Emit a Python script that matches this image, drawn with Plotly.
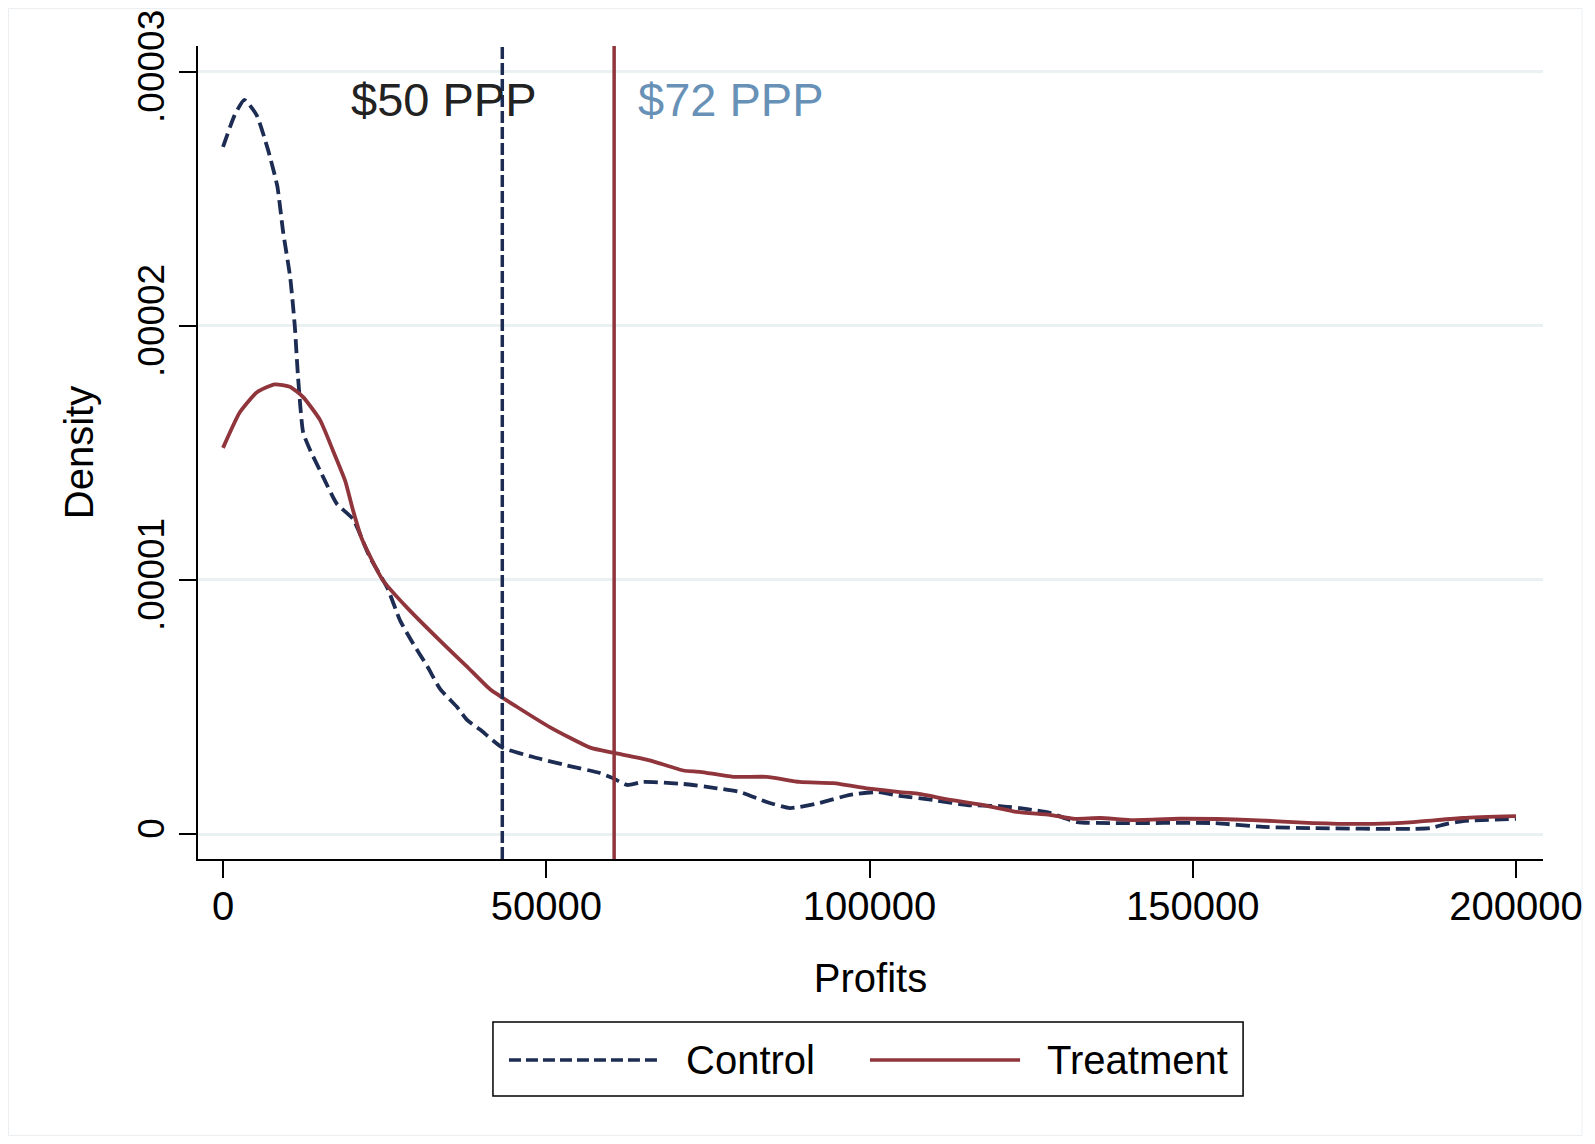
import numpy as np
import plotly.graph_objects as go

# ---- data ----
control_profit = [0, 1800, 3300, 5200, 7000, 8400, 9300, 10400, 11100, 11600,
                  12400, 13500, 15500, 17600, 20100, 22700, 25400, 27400, 29400, 31600,
                  33600, 36200, 37700, 39800, 43200, 48000, 53200, 58300, 60300, 62500,
                  65000, 71200, 76400, 80000, 84100, 87700, 91900, 97000, 101200, 104700,
                  109800, 115100, 120200, 124400, 127900, 132100, 137700, 153100, 160900, 168600,
                  184100, 186700, 189300, 191800, 200000]
control_density_e6 = [27.05, 28.3, 28.9, 28.3, 26.9, 25.5, 23.7, 21.9, 20.0, 18.0,
                      15.8, 15.1, 14.05, 13.0, 12.4, 10.9, 9.7, 8.4, 7.5, 6.6,
                      5.7, 5.0, 4.5, 4.1, 3.4, 3.03, 2.7, 2.4, 2.2, 1.93,
                      2.05, 1.97, 1.8, 1.65, 1.26, 1.02, 1.2, 1.54, 1.65, 1.5,
                      1.34, 1.14, 1.1, 0.98, 0.83, 0.47, 0.43, 0.43, 0.28, 0.23,
                      0.2, 0.23, 0.4, 0.51, 0.6]

treatment_profit = [0, 2600, 5300, 8000, 10400, 12400, 15000, 17000, 18900, 20100,
                    21500, 24700, 28500, 33600, 37700, 41300, 45500, 50600, 56800, 60300,
                    66000, 71200, 73800, 78900, 84100, 89200, 94400, 99600, 104700, 107300,
                    112500, 117600, 122800, 127900, 131500, 135700, 140300, 148000, 159300, 168600,
                    177900, 184100, 191800, 200000]
treatment_density_e6 = [15.2, 16.6, 17.4, 17.7, 17.6, 17.2, 16.3, 15.1, 13.9, 12.75,
                        11.6, 10.0, 8.9, 7.6, 6.6, 5.7, 5.0, 4.2, 3.4, 3.2,
                        2.9, 2.5, 2.45, 2.25, 2.25, 2.05, 2.0, 1.8, 1.65, 1.6,
                        1.34, 1.14, 0.87, 0.75, 0.6, 0.63, 0.55, 0.6, 0.55, 0.43,
                        0.4, 0.47, 0.63, 0.7]

ppp50_line = 43200
ppp72_line = 60500
ppp50_label = "$50 PPP"
ppp72_label = "$72 PPP"
label_height_e6 = 28.9

x_tick_vals = [0, 50000, 100000, 150000, 200000]
x_tick_text = ["0", "50000", "100000", "150000", "200000"]
y_tick_vals_e6 = [0, 10, 20, 30]
y_tick_text = ["0", ".00001", ".00002", ".00003"]

series_names = ["Control", "Treatment"]

# ---- styling ----
NAVY = "#1c2c52"
MAROON = "#8f353b"
LABEL_BLUE = "#6791b6"
GRID = "#eaf1f3"
FONT = "Liberation Sans, Arial, sans-serif"

E6 = 1e-6
fig = go.Figure()
fig.add_trace(go.Scatter(
    x=control_profit, y=np.array(control_density_e6) * E6, mode="lines",
    name=series_names[0], line=dict(color=NAVY, width=3.8, dash="14px,6px",
                                    shape="spline", smoothing=0.5),
    showlegend=False))
fig.add_trace(go.Scatter(
    x=treatment_profit, y=np.array(treatment_density_e6) * E6, mode="lines",
    name=series_names[1], line=dict(color=MAROON, width=3.8, shape="spline", smoothing=0.5),
    showlegend=False))

# vertical reference lines
fig.add_shape(type="line", xref="x", yref="paper", x0=ppp50_line, x1=ppp50_line,
              y0=0, y1=1, line=dict(color=NAVY, width=3.5, dash="12px,4px"))
fig.add_shape(type="line", xref="x", yref="paper", x0=ppp72_line, x1=ppp72_line,
              y0=0, y1=1, line=dict(color=MAROON, width=3.5))

fig.add_annotation(x=19500, y=label_height_e6 * E6, xref="x", yref="y",
                   text=ppp50_label, showarrow=False, xanchor="left", yanchor="middle",
                   font=dict(family=FONT, size=47, color="#222222"))
fig.add_annotation(x=63900, y=label_height_e6 * E6, xref="x", yref="y",
                   text=ppp72_label, showarrow=False, xanchor="left", yanchor="middle",
                   font=dict(family=FONT, size=47, color=LABEL_BLUE))

# outer faint frame
fig.add_shape(type="rect", xref="paper", yref="paper", x0=-0.1409, x1=1.029,
              y0=-0.3401, y1=1.0461, line=dict(color="#eceff1", width=1), layer="below")

# custom legend
LEG_Y = -0.2472
fig.add_shape(type="rect", xref="paper", yref="paper", x0=0.2193, x1=0.7770,
              y0=-0.2915, y1=-0.2005, line=dict(color="black", width=1.5))
fig.add_shape(type="line", xref="paper", yref="paper", x0=0.2312, x1=0.3428,
              y0=LEG_Y, y1=LEG_Y, line=dict(color=NAVY, width=3.5, dash="12px,5px"))
fig.add_shape(type="line", xref="paper", yref="paper", x0=0.4996, x1=0.6112,
              y0=LEG_Y, y1=LEG_Y, line=dict(color=MAROON, width=3.5))
fig.add_annotation(x=0.3613, y=LEG_Y, xref="paper", yref="paper", text=series_names[0],
                   showarrow=False, xanchor="left", yanchor="middle",
                   font=dict(family=FONT, size=40, color="black"))
fig.add_annotation(x=0.6297, y=LEG_Y, xref="paper", yref="paper", text=series_names[1],
                   showarrow=False, xanchor="left", yanchor="middle",
                   font=dict(family=FONT, size=40, color="black"))

# the page body adds an 8px margin, so the figure is 16px smaller and offset
fig.update_layout(
    width=1579, height=1128,
    margin=dict(l=190, r=44, t=38, b=277, autoexpand=False),
    paper_bgcolor="white", plot_bgcolor="white",
    showlegend=False,
    font=dict(family=FONT, size=40, color="black"),
)
fig.update_xaxes(
    automargin=False,
    range=[-3870, 204180], tickmode="array", tickvals=x_tick_vals, ticktext=x_tick_text,
    showgrid=False, zeroline=False, showline=True, linecolor="black", linewidth=2,
    ticks="outside", ticklen=17, tickwidth=2, tickcolor="black",
    tickfont=dict(family=FONT, size=40, color="black"), ticklabelstandoff=-6,
    ticklabeloverflow="allow",
    title=dict(text="Profits", font=dict(family=FONT, size=40, color="black"), standoff=37),
)
fig.update_yaxes(
    automargin=False,
    range=[-0.984e-6, 31.02e-6], tickmode="array",
    tickvals=[v * E6 for v in y_tick_vals_e6], ticktext=y_tick_text, tickangle=-90,
    showgrid=True, gridcolor=GRID, gridwidth=3, zeroline=False,
    showline=True, linecolor="black", linewidth=2,
    ticks="outside", ticklen=17, tickwidth=2, tickcolor="black",
    tickfont=dict(family=FONT, size=37, color="black"), ticklabeloverflow="allow",
    title=dict(text="Density", font=dict(family=FONT, size=40, color="black"), standoff=25),
)

fig.write_html("out.html")
